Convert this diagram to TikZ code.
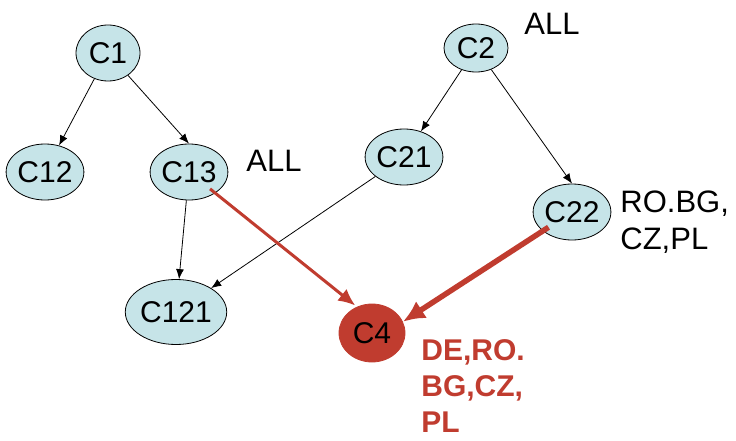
\documentclass[tikz,border=0pt]{standalone}
\usepackage{fontspec}
\setmainfont{Liberation Sans}
\usetikzlibrary{shapes.geometric,arrows.meta}
\definecolor{lightcyan}{RGB}{198,228,232}
\definecolor{brickred}{RGB}{192,60,47}

\begin{document}
\begin{tikzpicture}[x=1pt, y=-1pt, line width=0.8pt,
    main/.style = {draw, ellipse, fill=lightcyan, inner sep=0pt, minimum width=64pt, minimum height=56pt, font=\fontsize{30}{32}\selectfont},
    target/.style = {main, draw=brickred, fill=brickred, minimum width=66pt, minimum height=58pt},
    tag/.style = {anchor=north west, inner sep=0pt, align=left, font=\fontsize{31}{37}\selectfont},
    edge/.style = {-{Latex[length=10pt,width=8pt]}},
    redge/.style = {draw=brickred, -{Latex[length=17pt,width=15pt]}}]
    \useasboundingbox (0,0) rectangle (736,441);
    % Nodes
    \node[main] (C1) at (108,53) {C1};
    \node[main] (C12) at (45,172) {C12};
    \node[main] (C13) at (189,172) {C13};
    \node[main, minimum height=48pt] (C2) at (476,48) {C2};
    \node[main] (C21) at (404,157) {C21};
    \node[main] (C22) at (572,212) {C22};
    \node[main, minimum width=74pt, minimum height=65pt] (C121) at (176,312) {C121};
    \node[target] (C4) at (372,333) {C4};
    % Labels
    \node[tag] (all13) at (246,150) {ALL};
    \node[tag] (all2) at (524,13) {ALL};
    \node[tag] (c22tag) at (620,190) {RO.BG,\\CZ,PL};
    \node[tag, font=\fontsize{30}{36}\selectfont\bfseries, text=brickred] (c4tag) at (421,339) {DE,RO.\\BG,CZ,\\PL};
    % Edges
    \draw[edge] (C1) -- (C12);
    \draw[edge] (C1) -- (C13.north);
    \draw[edge] (C2) -- (C21);
    \draw[edge] (C2) -- (C22.north);
    \draw[edge] (C13) -- (C121);
    \draw[edge] (C21) -- (C121);
    \draw[redge, line width=3pt, shorten <=27pt, shorten >=2pt] (C13.center) -- (C4.120);
    \draw[redge, line width=5.5pt, -{Latex[length=22pt,width=20pt]}, shorten <=28pt] (C22.center) -- (C4.20);
\end{tikzpicture}
\end{document}
